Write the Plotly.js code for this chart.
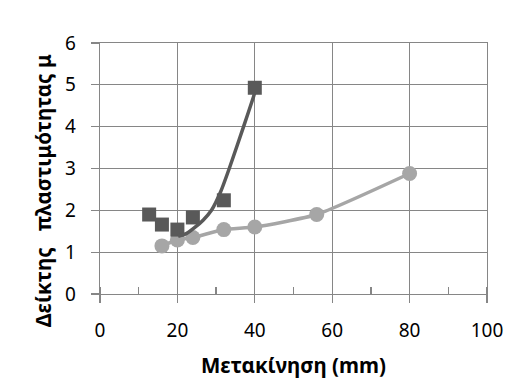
<!DOCTYPE html>
<html>
<head>
<meta charset="utf-8">
<script src="https://cdn.plot.ly/plotly-3.0.1.min.js"></script>
<style>html,body{margin:0;padding:0;background:#fff;}#chart{width:510px;height:383px;}</style>
</head>
<body>
<div id="chart"></div>
<script>
// Dark series (squares)
const darkX = [12.7, 16.0, 20.0, 24.0, 32.0, 40.0];
const darkY = [1.90, 1.66, 1.54, 1.83, 2.24, 4.93];
// Dark trend curve
const trendX = [20.2, 22.4, 24.5, 26.7, 28.8, 31.2, 33.4, 37.1, 39.65, 40.0];
const trendY = [1.38, 1.45, 1.59, 1.77, 2.00, 2.45, 3.00, 4.00, 4.71, 4.82];
// Light series (circles)
const lightX = [16.0, 20.0, 24.0, 32.0, 40.0, 56.0, 80.0];
const lightY = [1.15, 1.29, 1.35, 1.54, 1.60, 1.90, 2.88];

const xTitle = 'Μετακίνηση (mm)';
const yTitle = 'Δείκτης\u00A0\u00A0\u00A0πλαστιμότητας μ';

const FONT = 'Noto Sans, Open Sans, sans-serif';
const GRID = '#868686';

const traces = [
  {x: lightX, y: lightY, mode: 'lines+markers', type: 'scatter',
   line: {color: '#a6a6a6', width: 3.5, shape: 'spline', smoothing: 0.5},
   marker: {symbol: 'circle', size: 15, color: '#a6a6a6'}, cliponaxis: false},
  {x: darkX, y: darkY, mode: 'markers', type: 'scatter',
   marker: {symbol: 'square', size: 14, color: '#595959'}, cliponaxis: false},
  {x: trendX, y: trendY, mode: 'lines', type: 'scatter',
   line: {color: '#595959', width: 3.5, shape: 'spline', smoothing: 0.5}}
];

const layout = {
  width: 510, height: 383,
  margin: {l: 100, r: 23, t: 43, b: 89},
  paper_bgcolor: '#fff', plot_bgcolor: '#fff',
  showlegend: false,
  font: {family: FONT, size: 19, color: '#000'},
  xaxis: {
    range: [0, 100], tickvals: [0, 20, 40, 60, 80, 100],
    showgrid: true, gridcolor: GRID, gridwidth: 1.3,
    showline: true, linecolor: GRID, linewidth: 1.3, mirror: true,
    zeroline: false,
    ticks: 'outside', ticklen: 8, tickcolor: GRID, tickwidth: 1.3,
    ticklabelstandoff: 11,
    minor: {dtick: 10, tick0: 0, ticks: 'inside', ticklen: 7, tickcolor: GRID, tickwidth: 1.3, showgrid: false},
    tickfont: {size: 19, family: FONT},
    title: {text: '<b>' + xTitle + '</b>', font: {size: 20.5, family: FONT}, standoff: 16}
  },
  yaxis: {
    range: [0, 6], dtick: 1,
    showgrid: true, gridcolor: GRID, gridwidth: 1.3,
    showline: true, linecolor: GRID, linewidth: 1.3, mirror: true,
    zeroline: false,
    ticks: 'outside', ticklen: 8, tickcolor: GRID, tickwidth: 1.3,
    ticklabelstandoff: 11,
    tickfont: {size: 19, family: FONT}
  },
  annotations: [{
    text: '<b>' + yTitle + '</b>', textangle: -90,
    xref: 'paper', yref: 'paper', x: -0.147, y: 0.41,
    xanchor: 'center', yanchor: 'middle', showarrow: false,
    font: {size: 20.5, family: FONT, color: '#000'}
  }]
};

Plotly.newPlot('chart', traces, layout, {displayModeBar: false, staticPlot: true});
</script>
</body>
</html>
